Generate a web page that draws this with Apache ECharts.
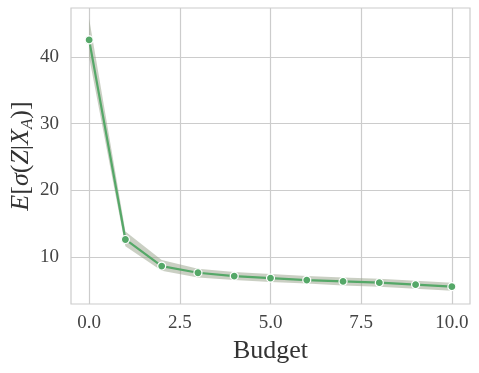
<!DOCTYPE html>
<html>
<head>
<meta charset="utf-8">
<script src="https://cdn.jsdelivr.net/npm/echarts@6/dist/echarts.min.js"></script>
<style>
  html, body { margin: 0; padding: 0; background: #fff; }
  #chart { width: 479px; height: 373px; }
</style>
</head>
<body>
<div id="chart"></div>
<script>
// budget on x, mean sigma on y, band = confidence interval
const budget = [0, 1, 2, 3, 4, 5, 6, 7, 8, 9, 10];
const meanSigma = [42.6, 12.6, 8.6, 7.6, 7.1, 6.8, 6.5, 6.3, 6.1, 5.8, 5.5];
const bandLow = [40.0, 11.6, 7.9, 6.9, 6.5, 6.2, 6.0, 5.7, 5.5, 5.2, 4.9];
const bandHigh = [45.8, 13.8, 9.5, 8.2, 7.7, 7.4, 7.1, 6.9, 6.7, 6.4, 6.1];
const xTicks = [0, 2.5, 5, 7.5, 10];
const yTicks = [10, 20, 30, 40];

const serif = '"Liberation Serif", "DejaVu Serif", serif';
const gridColor = '#cccccc';
const green = '#55a868';

const pairs = (ys) => budget.map((b, i) => [b, ys[i]]);

// polygon for the band, drawn through the axes' scales
function renderBand(params, api) {
  if (params.dataIndex !== 0) return;
  const top = budget.map((b, i) => api.coord([b, bandHigh[i]]));
  const bottom = budget.map((b, i) => api.coord([b, bandLow[i]])).reverse();
  return {
    type: 'polygon',
    shape: { points: top.concat(bottom) },
    style: { fill: 'rgba(150,160,135,0.5)' },
    silent: true
  };
}

const chart = echarts.init(document.getElementById('chart'));
chart.setOption({
  animation: false,
  grid: {
    left: 71, right: 9, top: 8, bottom: 69, outerBoundsMode: 'none',
    show: true, borderColor: gridColor, borderWidth: 1.2
  },
  xAxis: {
    type: 'value', min: -0.5, max: 10.5,
    name: 'Budget', nameLocation: 'middle', nameGap: 34,
    nameTextStyle: { fontFamily: serif, fontSize: 26, color: '#333' },
    axisLine: { show: false },
    axisTick: { show: false, customValues: xTicks },
    axisLabel: {
      customValues: xTicks, fontFamily: serif, fontSize: 19, color: '#444', margin: 10,
      formatter: (v) => v.toFixed(1)
    },
    splitLine: { show: true, lineStyle: { color: gridColor, width: 1.2 } }
  },
  yAxis: {
    type: 'value', min: 2.9, max: 47.4,
    name: '{i|E}[{i|σ}({i|Z}|{i|X}{s|A})]', nameLocation: 'middle', nameGap: 35, nameRotate: 90,
    nameMoveOverlap: false,
    nameTextStyle: {
      fontFamily: serif, fontSize: 26, color: '#333',
      rich: {
        i: { fontFamily: serif, fontSize: 26, fontStyle: 'italic', color: '#333' },
        s: { fontFamily: serif, fontSize: 17, fontStyle: 'italic', color: '#333', verticalAlign: 'bottom', padding: [12, 0, 0, 0] }
      }
    },
    axisLine: { show: false },
    axisTick: { show: false, customValues: yTicks },
    axisLabel: { customValues: yTicks, fontFamily: serif, fontSize: 19, color: '#444', margin: 12 },
    splitLine: { show: true, lineStyle: { color: gridColor, width: 1.2 } }
  },
  series: [
    {
      type: 'custom', renderItem: renderBand, data: pairs(meanSigma), silent: true, z: 1
    },
    {
      type: 'line', data: pairs(meanSigma), symbol: 'circle', symbolSize: 8, z: 3,
      lineStyle: { color: green, width: 2.2 },
      itemStyle: { color: green, borderColor: '#fff', borderWidth: 1.2 }
    }
  ]
});
</script>
</body>
</html>
